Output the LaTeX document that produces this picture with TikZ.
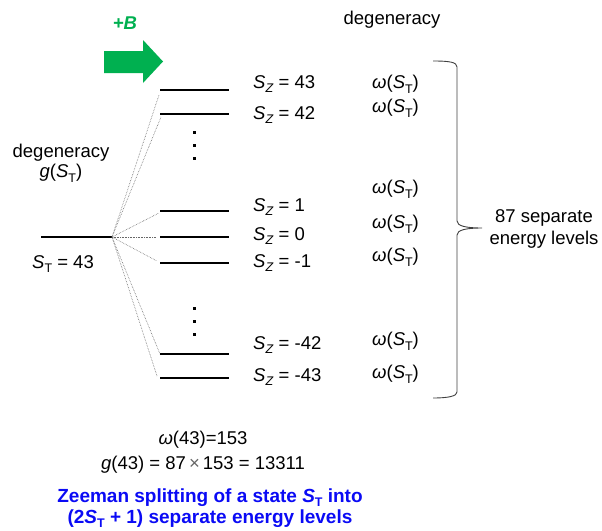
\documentclass[tikz,border=0pt]{standalone}
\usepackage{fontspec}
\setmainfont{Liberation Sans}
\usetikzlibrary{positioning}
\definecolor{fieldgreen}{RGB}{0,176,80}
\definecolor{titleblue}{RGB}{10,10,245}
\newcommand{\lo}[1]{\raisebox{-0.25em}{\fontsize{12.5}{12.5}\selectfont #1}}
\newcommand{\Sz}{\textit{S}\lo{\textit{Z}}}
\newcommand{\St}{\textit{S}\lo{T}}
\newcommand{\wSt}{\textit{ω}(\St)}
\newcommand{\bracepath}{(433,61) .. controls (449,61) and (457,62) .. (457,67) -- (457,221) .. controls (457,226) and (466,228) .. (482,228) .. controls (466,228) and (457,230) .. (457,235) -- (457,392) .. controls (457,396) and (449,398) .. (433,398)}

\begin{document}
\begin{tikzpicture}[x=1pt,y=-1pt,
    every node/.style={inner sep=0pt,font=\fontsize{18.5}{22}\selectfont},
    level/.style={line width=2.4pt},
    fanline/.style={black!60,line width=0.6pt,densely dotted}]
        \useasboundingbox (0,0) rectangle (602,530);
        \fill[fieldgreen] (104,51) -- (143,51) -- (143,40) -- (163,61.5) -- (143,83) -- (143,73) -- (104,73) -- cycle;
        \node[text=fieldgreen,font=\fontsize{18.5}{22}\selectfont\bfseries\itshape] (bfield) at (125,23) {+B};
        \node (degtop) at (392,20) {degeneracy};
        \node[align=center,font=\fontsize{18.5}{20}\selectfont] (degleft) at (61,163) {degeneracy\\\textit{g}(\St)};
        \draw[level] (41,237) -- (112,237) coordinate (fan);
        \node (stlabel) at (63,264) {\St{} = 43};
        \foreach \n/\y/\ex/\ey/\ly/\wy in {43/90/159/95/84/84, 42/114/161/117/115/108, 1/211/159/213/207/189, 0/237/156/237/236/224, -1/263/157/261/263/257, -42/354/160/354/345/341, -43/378/157/376/377/374}{
            \draw[level] (160,\y) -- (229,\y);
            \coordinate (e\n) at (\ex,\ey);
            \draw[fanline] (fan) -- (e\n);
            \node[anchor=west] (sz\n) at (253,\ly) {\Sz{} = \n};
            \node[anchor=west] (w\n) at (372,\wy) {\wSt};
        }
        \foreach \y in {132,145,158,308,321,334}
            \fill (192.5,\y-1.5) rectangle ++(3,3);
        \draw[black!75,line width=0.9pt] \bracepath;
        \node[align=center] (levels) at (544,229) {87 separate\\energy levels};
        \node (wtot) at (203,440) {\textit{ω}(43)=153};
        \node[below=7pt of wtot] (gtot) {\textit{g}(43) = 87\,{\color{black!60}×}\,153 = 13311};
        \node[align=center,text=titleblue,font=\fontsize{19}{21}\selectfont\bfseries] (title) at (210,508) {Zeeman splitting of a state \textit{S}\lo{T} into\\(2\textit{S}\lo{T} + 1) separate energy levels};
      \end{tikzpicture}
\end{document}
